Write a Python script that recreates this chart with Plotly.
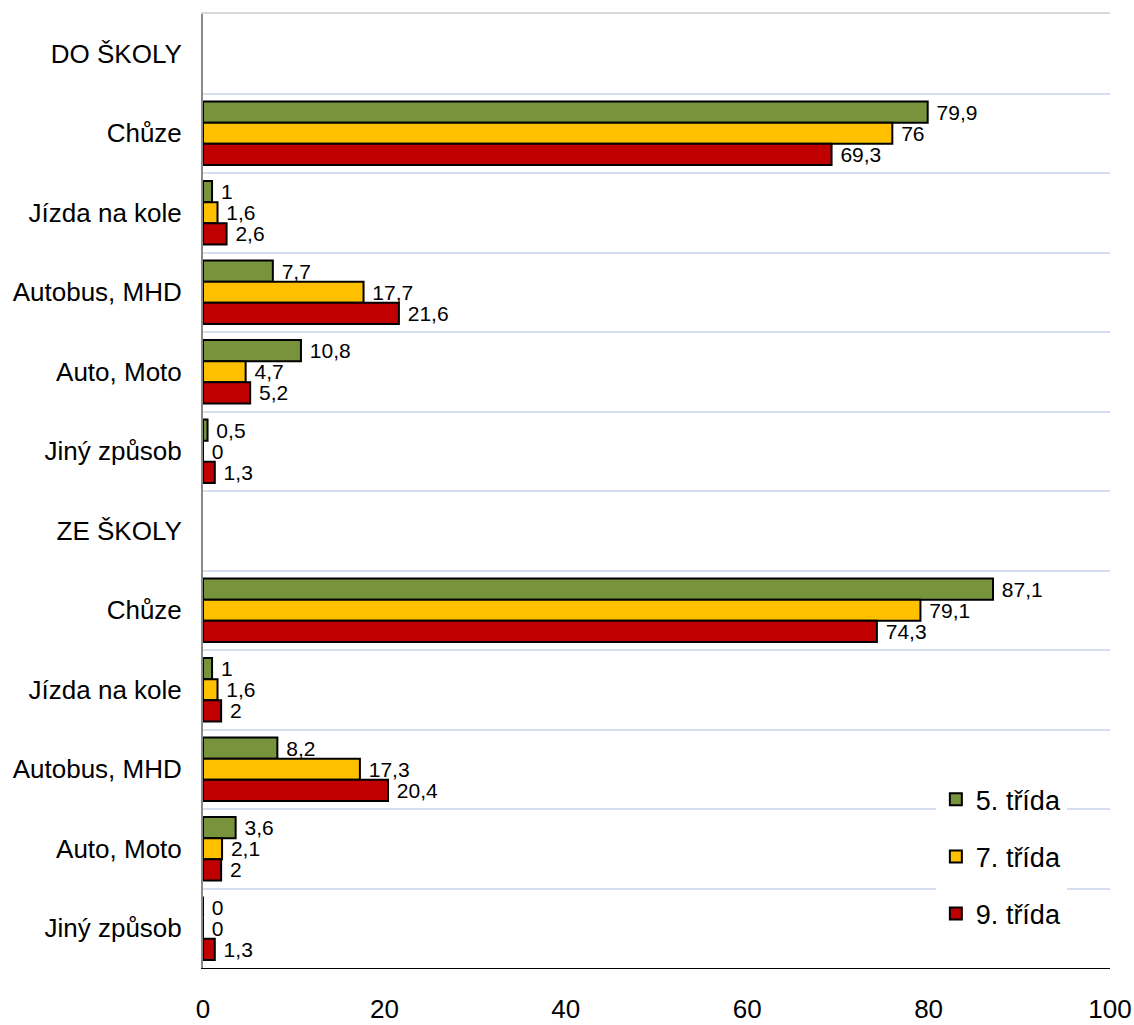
import plotly.graph_objects as go

categories = ["DO ŠKOLY", "Chůze", "Jízda na kole", "Autobus, MHD", "Auto, Moto", "Jiný způsob",
              "ZE ŠKOLY", "Chůze", "Jízda na kole", "Autobus, MHD", "Auto, Moto", "Jiný způsob"]
trida5 = [None, 79.9, 1, 7.7, 10.8, 0.5, None, 87.1, 1, 8.2, 3.6, 0]
trida7 = [None, 76, 1.6, 17.7, 4.7, 0, None, 79.1, 1.6, 17.3, 2.1, 0]
trida9 = [None, 69.3, 2.6, 21.6, 5.2, 1.3, None, 74.3, 2, 20.4, 2, 1.3]
series_names = ["5. třída", "7. třída", "9. třída"]
colors = ["#77933C", "#FFC000", "#C00000"]
x_ticks = [0, 20, 40, 60, 80, 100]

ypos = list(range(len(categories)))
FONT = "Arial"

fig = go.Figure()
for name, vals, col in zip(series_names, [trida5, trida7, trida9], colors):
    fig.add_trace(go.Bar(
        y=ypos, x=vals, name=name, orientation="h",
        marker=dict(color=col, line=dict(color="black", width=2)),
        text=[("" if v is None else "\u00a0" + f"{v:g}".replace(".", ",")) for v in vals],
        textposition="outside", cliponaxis=False, constraintext="none",
        textfont=dict(family=FONT, size=21, color="black"),
        legendgroup=name,
    ))

# empty helper trace so the top frame axis is rendered
fig.add_trace(go.Scatter(x=[], y=[], xaxis="x2", yaxis="y", showlegend=False,
                         hoverinfo="skip", mode="lines"))

fig.update_layout(
    width=1134, height=1025,
    margin=dict(l=203, r=24, t=14, b=57),
    paper_bgcolor="white", plot_bgcolor="white",
    barmode="group", bargap=0.2, bargroupgap=0,
    font=dict(family=FONT, size=26, color="black"),
    showlegend=True,
    legend=dict(x=0.808, y=0.202, xanchor="left", yanchor="top", bgcolor="white",
                font=dict(family=FONT, size=27), traceorder="grouped", tracegroupgap=19,
                itemwidth=30),
    xaxis=dict(range=[0, 100], tickvals=x_ticks, showgrid=False, zeroline=False,
               showline=True, linecolor="black", linewidth=1, ticks="",
               ticklabelstandoff=18, tickfont=dict(family=FONT, size=26), automargin=False),
    xaxis2=dict(overlaying="x", side="top", range=[0, 100], showgrid=False, zeroline=False,
                showline=True, linecolor="#D9D9D9", linewidth=2, ticks="",
                showticklabels=False, automargin=False),
    yaxis=dict(range=[len(categories) - 0.5, -0.5], tickvals=ypos, ticktext=categories,
               showgrid=False, zeroline=False, showline=True, linecolor="#898989",
               linewidth=2, ticks="", ticklabelstandoff=14,
               tickfont=dict(family=FONT, size=26), automargin=False,
               minor=dict(tick0=0.5, dtick=1, showgrid=True, gridcolor="#D6DFF0",
                          gridwidth=2, ticks="")),
)

fig.write_html("out.html")
